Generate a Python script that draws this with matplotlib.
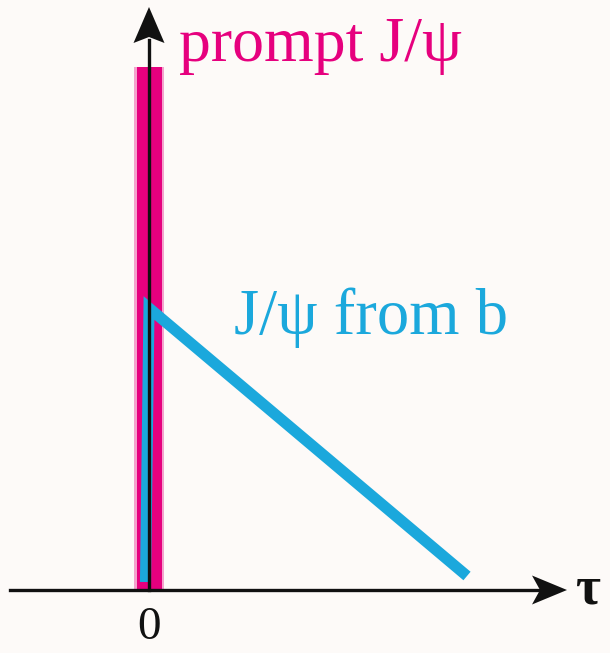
import numpy as np
import matplotlib
matplotlib.use("Agg")
import matplotlib.pyplot as plt
from matplotlib.patches import Polygon

# prompt component: a narrow spike at tau = 0
prompt_tau = [0.0]
prompt_height = [5.23]
prompt_width = 0.25

# non-prompt component from b decays: fast rise, then linear fall
b_tau = [-0.035, 0.0, 3.18]
b_height = [0.08, 2.82, 0.14]

tick_pos = [0.0]
tick_lab = ["0"]

pink = "#e6007e"
blue = "#1ba8dc"
bg = "#fdfaf8"
serif = ["Liberation Serif", "DejaVu Serif"]

fig = plt.figure(figsize=(6.10, 6.53), dpi=100, facecolor=bg)
ax = fig.add_axes([0, 0, 1, 1])
ax.set_facecolor(bg)
ax.set_xlim(-1.49, 4.61)
ax.set_ylim(-0.63, 5.90)
ax.axis("off")

# soft edge round the prompt spike
ax.bar(prompt_tau, prompt_height, width=prompt_width + 0.05, color=pink,
       alpha=0.35, zorder=1, linewidth=0)
ax.bar(prompt_tau, prompt_height, width=prompt_width, color=pink, zorder=2,
       linewidth=0)

ax.plot(b_tau, b_height, color=blue, lw=8, solid_capstyle="butt",
        solid_joinstyle="miter", zorder=3)

# axes with stealth-style arrow heads
ax.plot([-1.39, 3.95], [0, 0], color="#111111", lw=2.4, zorder=4)
ax.plot([0, 0], [0, 5.5], color="#111111", lw=2.4, zorder=4)
ax.add_patch(Polygon([[4.18, 0], [3.83, 0.145], [3.91, 0], [3.83, -0.145]],
                     closed=True, color="#111111", lw=0, zorder=5))
ax.add_patch(Polygon([[0, 5.83], [-0.155, 5.47], [0, 5.53], [0.155, 5.47]],
                     closed=True, color="#111111", lw=0, zorder=5))

for t, lab in zip(tick_pos, tick_lab):
    ax.text(t, -0.38, lab, ha="center", va="center", fontsize=34,
            family=serif, color="#111111")
ax.text(4.39, 0.0, "τ", ha="center", va="center", fontsize=39,
        family=serif, color="#111111", fontweight="bold")

ax.text(0.30, 5.44, "prompt J/ψ", ha="left", va="center", fontsize=46,
        family=serif, color=pink)
ax.text(0.85, 2.72, "J/ψ from b", ha="left", va="center", fontsize=46.5,
        family=serif, color=blue)

fig.savefig("out.png", dpi=100, facecolor=bg)
